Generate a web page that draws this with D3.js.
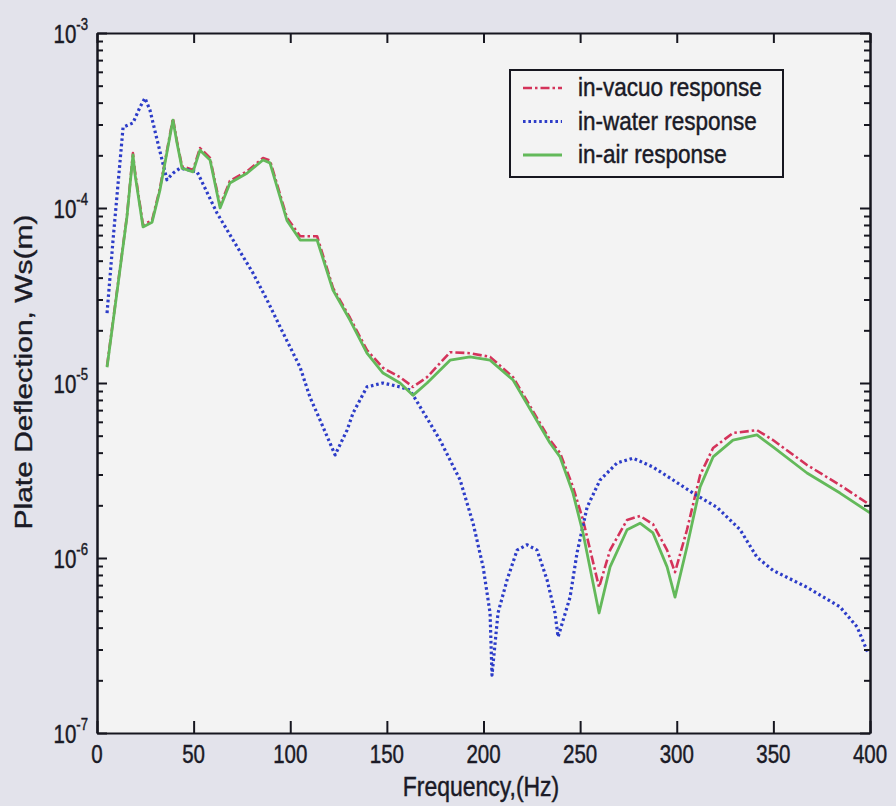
<!DOCTYPE html>
<html>
<head>
    <script src="https://d3js.org/d3.v7.min.js"></script>
    <style>
        body { margin: 0; background: #e3e3eb; }
        text { font-family: "Liberation Sans", Arial, sans-serif; fill: #1a1a26; stroke: #1a1a26; stroke-width: 0.45px; }
    </style>
</head>
<body>
    <svg width="896" height="806"></svg>
    <script>
        // data (frequency in Hz, deflection in m)
        var respFreq = [5.2, 15.5, 18.6, 19.7, 23.8, 28.5, 32.6, 39.3, 41.4, 44.0, 49.7, 53.3, 58.5, 63.7, 68.8, 77.6,
                        85.9, 89.5, 98.3, 105.1, 113.9, 122.1, 130.9, 139.7, 148.0, 156.8, 163.5, 170.8, 182.7, 193.0,
                        203.4, 215.3, 234.4, 239.6, 246.3, 251.5, 259.8, 265.5, 274.3, 281.0, 287.7, 295.0, 299.1,
                        305.3, 312.1, 318.8, 329.1, 341.5, 349.8, 367.4, 384.5, 400];
        var vacuoVals = [1.25e-5, 9.0e-5, 2.06e-4, 1.6e-4, 8.0e-5, 8.5e-5, 1.3e-4, 3.25e-4, 2.4e-4, 1.73e-4, 1.65e-4,
                         2.2e-4, 1.93e-4, 1.03e-4, 1.43e-4, 1.62e-4, 1.93e-4, 1.87e-4, 8.8e-5, 6.9e-5, 6.9e-5, 3.5e-5,
                         2.36e-5, 1.54e-5, 1.22e-5, 1.08e-5, 9.5e-6, 1.08e-5, 1.50e-5, 1.48e-5, 1.41e-5, 1.08e-5,
                         4.72e-6, 3.98e-6, 2.55e-6, 1.65e-6, 6.8e-7, 1.11e-6, 1.65e-6, 1.74e-6, 1.56e-6, 1.11e-6,
                         8.3e-7, 1.45e-6, 2.98e-6, 4.25e-6, 5.18e-6, 5.38e-6, 4.72e-6, 3.40e-6, 2.61e-6, 2.01e-6];
        var airVals = [1.23e-5, 8.9e-5, 2.01e-4, 1.55e-4, 7.8e-5, 8.3e-5, 1.27e-4, 3.18e-4, 2.35e-4, 1.69e-4, 1.61e-4,
                       2.14e-4, 1.88e-4, 1.0e-4, 1.39e-4, 1.58e-4, 1.88e-4, 1.81e-4, 8.5e-5, 6.56e-5, 6.56e-5, 3.40e-5,
                       2.29e-5, 1.48e-5, 1.14e-5, 1.0e-5, 8.5e-6, 1.0e-5, 1.35e-5, 1.41e-5, 1.35e-5, 1.04e-5,
                       4.54e-6, 3.78e-6, 2.35e-6, 1.39e-6, 4.85e-7, 8.9e-7, 1.45e-6, 1.58e-6, 1.39e-6, 8.9e-7,
                       5.98e-7, 1.16e-6, 2.55e-6, 3.78e-6, 4.72e-6, 5.05e-6, 4.31e-6, 3.06e-6, 2.35e-6, 1.81e-6];
        var waterFreq = [5.2, 8.3, 13.5, 18.6, 22.3, 24.8, 27.4, 31.1, 36.2, 39.3, 43.0, 51.8, 62.1, 70.4, 80.7, 88.0,
                         96.3, 105.1, 110.2, 115.4, 123.2, 129.4, 132.5, 139.7, 148.0, 156.8, 162.0, 172.3, 177.5,
                         187.9, 194.6, 199.8, 203.4, 204.4, 207.5, 212.2, 217.4, 222.5, 227.7, 232.9, 237.0, 238.6,
                         244.8, 248.4, 253.6, 260.3, 269.1, 277.4, 287.7, 298.1, 308.4, 320.8, 332.8, 341.5, 349.8,
                         367.4, 384.5, 393.3, 399];
        var waterVals = [2.51e-5, 6.56e-5, 2.90e-4, 3.06e-4, 3.78e-4, 4.25e-4, 3.63e-4, 2.45e-4, 1.45e-4, 1.58e-4,
                         1.69e-4, 1.61e-4, 9.36e-5, 6.56e-5, 4.25e-5, 2.98e-5, 1.93e-5, 1.23e-5, 8.3e-6, 6.15e-6,
                         3.88e-6, 5.38e-6, 6.74e-6, 9.5e-6, 1.0e-5, 9.5e-6, 9.1e-6, 5.9e-6, 4.72e-6, 2.79e-6,
                         1.58e-6, 8.9e-7, 4.85e-7, 2.14e-7, 4.85e-7, 7.5e-7, 1.11e-6, 1.19e-6, 1.11e-6, 7.5e-7,
                         4.85e-7, 3.54e-7, 5.98e-7, 1.07e-6, 1.95e-6, 2.79e-6, 3.49e-6, 3.72e-6, 3.31e-6, 2.79e-6,
                         2.35e-6, 1.95e-6, 1.45e-6, 1.01e-6, 8.5e-7, 6.8e-7, 5.25e-7, 4.04e-7, 2.86e-7];

        var xTicks = [0, 50, 100, 150, 200, 250, 300, 350, 400];
        var yExps = [-3, -4, -5, -6, -7];
        var legendNames = ["in-vacuo response", "in-water response", "in-air response"];

        var svg = d3.select("svg");
        var padL = 97, padR = 870, padT = 33, padB = 733;
        var sx = 0.82; // the scan is squeezed sideways

        var x = d3.scaleLinear().domain([0, 400]).range([padL, padR]);
        var y = d3.scaleLog().domain([1e-7, 1e-3]).range([padB, padT]);

        svg.append("rect").attr("width", 896).attr("height", 806).attr("fill", "#e3e3eb");
        svg.append("rect")
           .attr("x", padL).attr("y", padT)
           .attr("width", padR - padL).attr("height", padB - padT)
           .attr("fill", "#f3f3f3");

        // lines
        var line = d3.line().x(function(d) { return x(d[0]); }).y(function(d) { return y(d[1]); });
        var series = [
            { pts: d3.zip(respFreq, vacuoVals), color: "#d4335a", dash: "9,3,2.5,3", width: 2.6 },
            { pts: d3.zip(waterFreq, waterVals), color: "#2c3cc8", dash: "2.6,2.8", width: 3.2 },
            { pts: d3.zip(respFreq, airVals), color: "#63b95a", dash: null, width: 2.8 }
        ];
        series.forEach(function(s) {
            svg.append("path")
               .attr("d", line(s.pts))
               .attr("fill", "none")
               .attr("stroke", s.color)
               .attr("stroke-width", s.width)
               .attr("stroke-dasharray", s.dash)
               .attr("stroke-linejoin", "round");
        });

        // axes, MATLAB style box with inward ticks
        var minor = [];
        for (var e = -7; e < -3; e++) {
            for (var m = 2; m <= 9; m++) minor.push(m * Math.pow(10, e));
        }
        var majorY = yExps.map(function(p) { return Math.pow(10, p); });

        function styleAxis(g) {
            g.selectAll("path, line").attr("stroke", "#16161f").attr("stroke-width", 2);
            g.selectAll("text").remove();
        }
        svg.append("g").attr("transform", "translate(0," + padB + ")")
           .call(d3.axisBottom(x).tickValues(xTicks).tickSize(-12).tickSizeOuter(0)).call(styleAxis);
        svg.append("g").attr("transform", "translate(0," + padT + ")")
           .call(d3.axisTop(x).tickValues(xTicks).tickSize(-10).tickSizeOuter(0)).call(styleAxis);
        svg.append("g").attr("transform", "translate(" + padL + ",0)")
           .call(d3.axisLeft(y).tickValues(majorY).tickSize(-10).tickSizeOuter(0)).call(styleAxis);
        svg.append("g").attr("transform", "translate(" + padL + ",0)")
           .call(d3.axisLeft(y).tickValues(minor).tickSize(-6).tickSizeOuter(0)).call(styleAxis);
        svg.append("g").attr("transform", "translate(" + padR + ",0)")
           .call(d3.axisRight(y).tickValues(majorY).tickSize(-10).tickSizeOuter(0)).call(styleAxis);
        svg.append("g").attr("transform", "translate(" + padR + ",0)")
           .call(d3.axisRight(y).tickValues(minor).tickSize(-6).tickSizeOuter(0)).call(styleAxis);

        function label(px, py, str, size, anchor, rot) {
            return svg.append("text")
                .attr("transform", "translate(" + px + "," + py + ") scale(" + sx + ",1)" + (rot ? " rotate(" + rot + ")" : ""))
                .attr("text-anchor", anchor)
                .style("font-size", size + "px")
                .text(str);
        }

        xTicks.forEach(function(t) { label(x(t), padB + 30, t, 25, "middle"); });
        yExps.forEach(function(p) {
            var t = label(88, y(Math.pow(10, p)) + 10, "10", 25, "end");
            t.append("tspan").attr("dy", -13).style("font-size", "16px").text(p);
        });

        label(481, 796, "Frequency,(Hz)", 28, "middle");
        label(32, 372, "Plate Deflection, Ws(m)", 30, "middle", -90);

        // legend
        svg.append("rect")
           .attr("x", 510).attr("y", 70).attr("width", 273).attr("height", 107)
           .attr("fill", "#f3f3f3").attr("stroke", "#16161f").attr("stroke-width", 2);
        legendNames.forEach(function(name, i) {
            var ly = 88 + i * 33.5, s = series[i];
            svg.append("line")
               .attr("x1", 523).attr("x2", 562).attr("y1", ly).attr("y2", ly)
               .attr("stroke", s.color).attr("stroke-width", s.width)
               .attr("stroke-dasharray", s.dash);
            svg.append("text")
               .attr("transform", "translate(578," + (ly + 8) + ") scale(0.9,1)")
               .style("font-size", "25px")
               .text(name);
        });
    </script>
</body>
</html>
